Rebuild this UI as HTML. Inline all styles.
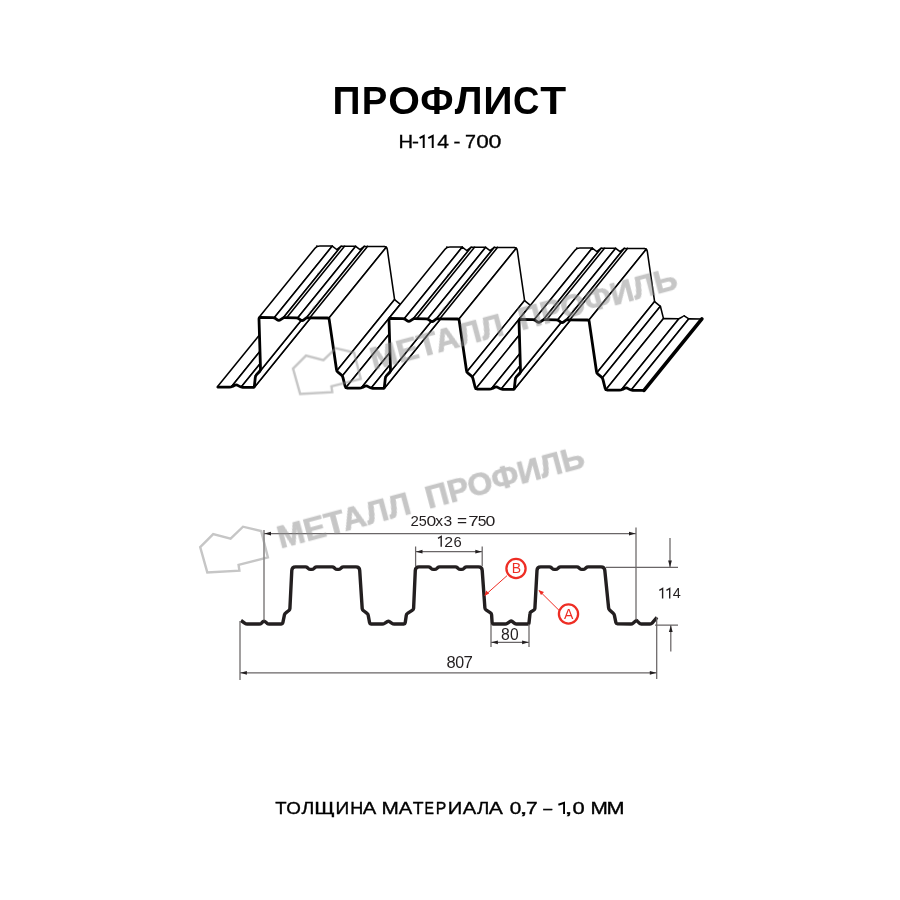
<!DOCTYPE html>
<html><head><meta charset="utf-8"><style>
html,body{margin:0;padding:0;background:#fff;width:900px;height:900px;overflow:hidden}
svg{display:block;will-change:transform;font-family:"Liberation Sans",sans-serif}
</style></head><body>
<svg width="900" height="900" viewBox="0 0 900 900">
<rect width="900" height="900" fill="#fff"/>
<text x="332.40" y="114" font-size="39" textLength="28.03" lengthAdjust="spacingAndGlyphs" font-family="Liberation Sans" fill="#000" font-weight="bold">П</text><text x="361.85" y="114" font-size="39" textLength="25.54" lengthAdjust="spacingAndGlyphs" font-family="Liberation Sans" fill="#000" font-weight="bold">Р</text><text x="388.33" y="114" font-size="39" textLength="31.68" lengthAdjust="spacingAndGlyphs" font-family="Liberation Sans" fill="#000" font-weight="bold">О</text><text x="420.30" y="114" font-size="39" textLength="33.29" lengthAdjust="spacingAndGlyphs" font-family="Liberation Sans" fill="#000" font-weight="bold">Ф</text><text x="454.80" y="114" font-size="39" textLength="27.81" lengthAdjust="spacingAndGlyphs" font-family="Liberation Sans" fill="#000" font-weight="bold">Л</text><text x="483.37" y="114" font-size="39" textLength="29.38" lengthAdjust="spacingAndGlyphs" font-family="Liberation Sans" fill="#000" font-weight="bold">И</text><text x="512.90" y="114" font-size="39" textLength="26.40" lengthAdjust="spacingAndGlyphs" font-family="Liberation Sans" fill="#000" font-weight="bold">С</text><text x="540.17" y="114" font-size="39" textLength="25.90" lengthAdjust="spacingAndGlyphs" font-family="Liberation Sans" fill="#000" font-weight="bold">Т</text><text x="398.44" y="148" font-size="17.5" textLength="14.57" lengthAdjust="spacingAndGlyphs" font-family="Liberation Sans" fill="#000" stroke="#000" stroke-width="0.3">Н</text><text x="412.11" y="148" font-size="17.5" textLength="6.94" lengthAdjust="spacingAndGlyphs" font-family="Liberation Sans" fill="#000" stroke="#000" stroke-width="0.3">-</text><path d="M419.58,138.02 L423.72,135.88 V148.00" fill="none" stroke="#000" stroke-width="1.95" stroke-linejoin="miter"/><path d="M428.28,138.02 L432.72,135.88 V148.00" fill="none" stroke="#000" stroke-width="1.95" stroke-linejoin="miter"/><text x="437.28" y="148" font-size="17.5" textLength="11.72" lengthAdjust="spacingAndGlyphs" font-family="Liberation Sans" fill="#000" stroke="#000" stroke-width="0.3">4</text><text x="453.41" y="148" font-size="17.5" textLength="6.94" lengthAdjust="spacingAndGlyphs" font-family="Liberation Sans" fill="#000" stroke="#000" stroke-width="0.3">-</text><text x="465.04" y="148" font-size="17.5" textLength="10.95" lengthAdjust="spacingAndGlyphs" font-family="Liberation Sans" fill="#000" stroke="#000" stroke-width="0.3">7</text><text x="476.16" y="148" font-size="17.5" textLength="12.55" lengthAdjust="spacingAndGlyphs" font-family="Liberation Sans" fill="#000" stroke="#000" stroke-width="0.3">0</text><text x="488.44" y="148" font-size="17.5" textLength="12.90" lengthAdjust="spacingAndGlyphs" font-family="Liberation Sans" fill="#000" stroke="#000" stroke-width="0.3">0</text><text x="275.15" y="813.9" font-size="16.6" textLength="11.33" lengthAdjust="spacingAndGlyphs" font-family="Liberation Sans" fill="#000" stroke="#000" stroke-width="0.35">Т</text><text x="286.29" y="813.9" font-size="16.6" textLength="14.63" lengthAdjust="spacingAndGlyphs" font-family="Liberation Sans" fill="#000" stroke="#000" stroke-width="0.35">О</text><text x="301.58" y="813.9" font-size="16.6" textLength="12.86" lengthAdjust="spacingAndGlyphs" font-family="Liberation Sans" fill="#000" stroke="#000" stroke-width="0.35">Л</text><text x="314.25" y="813.9" font-size="16.6" textLength="20.52" lengthAdjust="spacingAndGlyphs" font-family="Liberation Sans" fill="#000" stroke="#000" stroke-width="0.35">Щ</text><text x="335.59" y="813.9" font-size="16.6" textLength="13.75" lengthAdjust="spacingAndGlyphs" font-family="Liberation Sans" fill="#000" stroke="#000" stroke-width="0.35">И</text><text x="350.18" y="813.9" font-size="16.6" textLength="13.03" lengthAdjust="spacingAndGlyphs" font-family="Liberation Sans" fill="#000" stroke="#000" stroke-width="0.35">Н</text><text x="362.68" y="813.9" font-size="16.6" textLength="13.51" lengthAdjust="spacingAndGlyphs" font-family="Liberation Sans" fill="#000" stroke="#000" stroke-width="0.35">А</text><text x="381.55" y="813.9" font-size="16.6" textLength="17.32" lengthAdjust="spacingAndGlyphs" font-family="Liberation Sans" fill="#000" stroke="#000" stroke-width="0.35">М</text><text x="398.78" y="813.9" font-size="16.6" textLength="13.51" lengthAdjust="spacingAndGlyphs" font-family="Liberation Sans" fill="#000" stroke="#000" stroke-width="0.35">А</text><text x="412.87" y="813.9" font-size="16.6" textLength="10.79" lengthAdjust="spacingAndGlyphs" font-family="Liberation Sans" fill="#000" stroke="#000" stroke-width="0.35">Т</text><text x="424.40" y="813.9" font-size="16.6" textLength="9.47" lengthAdjust="spacingAndGlyphs" font-family="Liberation Sans" fill="#000" stroke="#000" stroke-width="0.35">Е</text><text x="435.86" y="813.9" font-size="16.6" textLength="10.57" lengthAdjust="spacingAndGlyphs" font-family="Liberation Sans" fill="#000" stroke="#000" stroke-width="0.35">Р</text><text x="447.70" y="813.9" font-size="16.6" textLength="14.53" lengthAdjust="spacingAndGlyphs" font-family="Liberation Sans" fill="#000" stroke="#000" stroke-width="0.35">И</text><text x="462.68" y="813.9" font-size="16.6" textLength="13.51" lengthAdjust="spacingAndGlyphs" font-family="Liberation Sans" fill="#000" stroke="#000" stroke-width="0.35">А</text><text x="477.09" y="813.9" font-size="16.6" textLength="12.28" lengthAdjust="spacingAndGlyphs" font-family="Liberation Sans" fill="#000" stroke="#000" stroke-width="0.35">Л</text><text x="488.77" y="813.9" font-size="16.6" textLength="14.12" lengthAdjust="spacingAndGlyphs" font-family="Liberation Sans" fill="#000" stroke="#000" stroke-width="0.35">А</text><text x="509.85" y="813.9" font-size="16.6" textLength="11.54" lengthAdjust="spacingAndGlyphs" font-family="Liberation Sans" fill="#000" stroke="#000" stroke-width="0.35">0</text><text x="519.58" y="813.9" font-size="16.6" textLength="8.07" lengthAdjust="spacingAndGlyphs" font-family="Liberation Sans" fill="#000" stroke="#000" stroke-width="0.35">,</text><text x="526.06" y="813.9" font-size="16.6" textLength="11.69" lengthAdjust="spacingAndGlyphs" font-family="Liberation Sans" fill="#000" stroke="#000" stroke-width="0.35">7</text><text x="543.30" y="813.9" font-size="16.6" textLength="8.93" lengthAdjust="spacingAndGlyphs" font-family="Liberation Sans" fill="#000" stroke="#000" stroke-width="0.35">–</text><path d="M558.37,804.77 L564.05,802.87 V813.90" fill="none" stroke="#000" stroke-width="1.9" stroke-linejoin="miter"/><text x="564.58" y="813.9" font-size="16.6" textLength="8.07" lengthAdjust="spacingAndGlyphs" font-family="Liberation Sans" fill="#000" stroke="#000" stroke-width="0.35">,</text><text x="572.50" y="813.9" font-size="16.6" textLength="12.23" lengthAdjust="spacingAndGlyphs" font-family="Liberation Sans" fill="#000" stroke="#000" stroke-width="0.35">0</text><text x="590.45" y="813.9" font-size="16.6" textLength="17.32" lengthAdjust="spacingAndGlyphs" font-family="Liberation Sans" fill="#000" stroke="#000" stroke-width="0.35">М</text><text x="606.47" y="813.9" font-size="16.6" textLength="18.06" lengthAdjust="spacingAndGlyphs" font-family="Liberation Sans" fill="#000" stroke="#000" stroke-width="0.35">М</text>
<g stroke="#000" fill="none" stroke-width="1.55" stroke-linejoin="round" stroke-linecap="round"><polygon points="217.2,387.1 231,387.2 288.9,315.7 275.1,315.6" fill="#fff" stroke="none"/><path d="M217.2,387.1L275.1,315.6M231,387.2L288.9,315.7M275.1,315.6L288.9,315.7"/><polygon points="231,387.2 236.3,384.4 294.2,312.9 288.9,315.7" fill="#fff" stroke="none"/><path d="M231,387.2L288.9,315.7M288.9,315.7L294.2,312.9"/><polygon points="236.3,384.4 241,387.3 298.9,315.8 294.2,312.9" fill="#fff" stroke="none"/><path d="M241,387.3L298.9,315.8M294.2,312.9L298.9,315.8"/><polygon points="241,387.3 254.2,387.4 312.1,315.9 298.9,315.8" fill="#fff" stroke="none"/><path d="M241,387.3L298.9,315.8M254.2,387.4L312.1,315.9M298.9,315.8L312.1,315.9"/><polygon points="254.2,387.4 255.5,375.8 313.4,304.3 312.1,315.9" fill="#fff" stroke="none"/><path d="M254.2,387.4L312.1,315.9M255.5,375.8L313.4,304.3M312.1,315.9L313.4,304.3"/><polygon points="255.5,375.8 260.6,370.5 318.5,299 313.4,304.3" fill="#fff" stroke="none"/><path d="M255.5,375.8L313.4,304.3M260.6,370.5L318.5,299M313.4,304.3L318.5,299"/><polygon points="260.6,370.5 258.9,317.5 316.8,246 318.5,299" fill="#fff" stroke="none"/><path d="M260.6,370.5L318.5,299M318.5,299L316.8,246"/><polygon points="258.9,317.5 274.4,317.6 332.3,246.1 316.8,246" fill="#fff" stroke="none"/><path d="M258.9,317.5L315,248.2Q316.8,246 319.6,246M274.4,317.6L332.3,246.1M319.6,246L332.3,246.1"/><polygon points="274.4,317.6 278.8,321 336.7,249.5 332.3,246.1" fill="#fff" stroke="none"/><path d="M274.4,317.6L332.3,246.1M332.3,246.1L336.7,249.5"/><polygon points="278.8,321 283.3,317.7 341.2,246.2 336.7,249.5" fill="#fff" stroke="none"/><path d="M283.3,317.7L341.2,246.2M286.6,317.7L344.5,246.2M336.7,249.5L341.2,246.2"/><polygon points="283.3,317.7 297.8,317.8 355.7,246.3 341.2,246.2" fill="#fff" stroke="none"/><path d="M283.3,317.7L341.2,246.2M286.6,317.7L344.5,246.2M297.8,317.8L355.7,246.3M341.2,246.2L355.7,246.3"/><polygon points="297.8,317.8 302.1,321.1 360,249.6 355.7,246.3" fill="#fff" stroke="none"/><path d="M297.8,317.8L355.7,246.3M355.7,246.3L360,249.6"/><polygon points="302.1,321.1 306.3,317.9 364.2,246.4 360,249.6" fill="#fff" stroke="none"/><path d="M306.3,317.9L364.2,246.4M309.6,317.9L367.5,246.4M360,249.6L364.2,246.4"/><polygon points="306.3,317.9 329,318 386.9,246.5 364.2,246.4" fill="#fff" stroke="none"/><path d="M306.3,317.9L364.2,246.4M309.6,317.9L367.5,246.4M329,318L386.3,247.2M364.2,246.4L384.1,246.5"/><polygon points="329,318 336.7,371.1 394.6,299.6 386.9,246.5" fill="#fff" stroke="none"/><path d="M329,318L386.3,247.2M336.7,371.1L394.6,299.6M384.1,246.5Q386.9,246.5 387.3,249.3M387.3,249.3L394.6,299.6"/><polygon points="336.7,371.1 342.5,375.8 400.4,304.3 394.6,299.6" fill="#fff" stroke="none"/><path d="M336.7,371.1L394.6,299.6M342.5,375.8L400.4,304.3M394.6,299.6L400.4,304.3"/><polygon points="342.5,375.8 345.6,388.1 403.5,316.6 400.4,304.3" fill="#fff" stroke="none"/><path d="M342.5,375.8L400.4,304.3M345.6,388.1L403.5,316.6M400.4,304.3L403.5,316.6"/><polygon points="345.6,388.1 361,388.2 418.9,316.7 403.5,316.6" fill="#fff" stroke="none"/><path d="M345.6,388.1L403.5,316.6M361,388.2L418.9,316.7M403.5,316.6L418.9,316.7"/><polygon points="361,388.2 366.3,385.4 424.2,313.9 418.9,316.7" fill="#fff" stroke="none"/><path d="M361,388.2L418.9,316.7M418.9,316.7L424.2,313.9"/><polygon points="366.3,385.4 371,388.3 428.9,316.8 424.2,313.9" fill="#fff" stroke="none"/><path d="M371,388.3L428.9,316.8M424.2,313.9L428.9,316.8"/><polygon points="371,388.3 384.2,388.4 442.1,316.9 428.9,316.8" fill="#fff" stroke="none"/><path d="M371,388.3L428.9,316.8M384.2,388.4L442.1,316.9M428.9,316.8L442.1,316.9"/><polygon points="384.2,388.4 385.5,376.8 443.4,305.3 442.1,316.9" fill="#fff" stroke="none"/><path d="M384.2,388.4L442.1,316.9M385.5,376.8L443.4,305.3M442.1,316.9L443.4,305.3"/><polygon points="385.5,376.8 390.6,371.5 448.5,300 443.4,305.3" fill="#fff" stroke="none"/><path d="M385.5,376.8L443.4,305.3M390.6,371.5L448.5,300M443.4,305.3L448.5,300"/><polygon points="390.6,371.5 388.9,318.5 446.8,247 448.5,300" fill="#fff" stroke="none"/><path d="M390.6,371.5L448.5,300M448.5,300L446.8,247"/><polygon points="388.9,318.5 404.4,318.6 462.3,247.1 446.8,247" fill="#fff" stroke="none"/><path d="M388.9,318.5L445,249.2Q446.8,247 449.6,247M404.4,318.6L462.3,247.1M449.6,247L462.3,247.1"/><polygon points="404.4,318.6 408.8,322 466.7,250.5 462.3,247.1" fill="#fff" stroke="none"/><path d="M404.4,318.6L462.3,247.1M462.3,247.1L466.7,250.5"/><polygon points="408.8,322 413.3,318.7 471.2,247.2 466.7,250.5" fill="#fff" stroke="none"/><path d="M413.3,318.7L471.2,247.2M416.6,318.7L474.5,247.2M466.7,250.5L471.2,247.2"/><polygon points="413.3,318.7 427.8,318.8 485.7,247.3 471.2,247.2" fill="#fff" stroke="none"/><path d="M413.3,318.7L471.2,247.2M416.6,318.7L474.5,247.2M427.8,318.8L485.7,247.3M471.2,247.2L485.7,247.3"/><polygon points="427.8,318.8 432.1,322.1 490,250.6 485.7,247.3" fill="#fff" stroke="none"/><path d="M427.8,318.8L485.7,247.3M485.7,247.3L490,250.6"/><polygon points="432.1,322.1 436.3,318.9 494.2,247.4 490,250.6" fill="#fff" stroke="none"/><path d="M436.3,318.9L494.2,247.4M439.6,318.9L497.5,247.4M490,250.6L494.2,247.4"/><polygon points="436.3,318.9 459,319 516.9,247.5 494.2,247.4" fill="#fff" stroke="none"/><path d="M436.3,318.9L494.2,247.4M439.6,318.9L497.5,247.4M459,319L516.3,248.2M494.2,247.4L514.1,247.5"/><polygon points="459,319 466.7,372.1 524.6,300.6 516.9,247.5" fill="#fff" stroke="none"/><path d="M459,319L516.3,248.2M466.7,372.1L524.6,300.6M514.1,247.5Q516.9,247.5 517.3,250.3M517.3,250.3L524.6,300.6"/><polygon points="466.7,372.1 472.5,376.8 530.4,305.3 524.6,300.6" fill="#fff" stroke="none"/><path d="M466.7,372.1L524.6,300.6M472.5,376.8L530.4,305.3M524.6,300.6L530.4,305.3"/><polygon points="472.5,376.8 475.6,389.1 533.5,317.6 530.4,305.3" fill="#fff" stroke="none"/><path d="M472.5,376.8L530.4,305.3M475.6,389.1L533.5,317.6M530.4,305.3L533.5,317.6"/><polygon points="475.6,389.1 491,389.2 548.9,317.7 533.5,317.6" fill="#fff" stroke="none"/><path d="M475.6,389.1L533.5,317.6M491,389.2L548.9,317.7M533.5,317.6L548.9,317.7"/><polygon points="491,389.2 496.3,386.4 554.2,314.9 548.9,317.7" fill="#fff" stroke="none"/><path d="M491,389.2L548.9,317.7M548.9,317.7L554.2,314.9"/><polygon points="496.3,386.4 501,389.3 558.9,317.8 554.2,314.9" fill="#fff" stroke="none"/><path d="M501,389.3L558.9,317.8M554.2,314.9L558.9,317.8"/><polygon points="501,389.3 514.2,389.4 572.1,317.9 558.9,317.8" fill="#fff" stroke="none"/><path d="M501,389.3L558.9,317.8M514.2,389.4L572.1,317.9M558.9,317.8L572.1,317.9"/><polygon points="514.2,389.4 515.5,377.8 573.4,306.3 572.1,317.9" fill="#fff" stroke="none"/><path d="M514.2,389.4L572.1,317.9M515.5,377.8L573.4,306.3M572.1,317.9L573.4,306.3"/><polygon points="515.5,377.8 520.6,372.5 578.5,301 573.4,306.3" fill="#fff" stroke="none"/><path d="M515.5,377.8L573.4,306.3M520.6,372.5L578.5,301M573.4,306.3L578.5,301"/><polygon points="520.6,372.5 518.9,319.5 576.8,248 578.5,301" fill="#fff" stroke="none"/><path d="M520.6,372.5L578.5,301M578.5,301L576.8,248"/><polygon points="518.9,319.5 534.4,319.6 592.3,248.1 576.8,248" fill="#fff" stroke="none"/><path d="M518.9,319.5L575,250.2Q576.8,248 579.6,248M534.4,319.6L592.3,248.1M579.6,248L592.3,248.1"/><polygon points="534.4,319.6 538.8,323 596.7,251.5 592.3,248.1" fill="#fff" stroke="none"/><path d="M534.4,319.6L592.3,248.1M592.3,248.1L596.7,251.5"/><polygon points="538.8,323 543.3,319.7 601.2,248.2 596.7,251.5" fill="#fff" stroke="none"/><path d="M543.3,319.7L601.2,248.2M546.6,319.7L604.5,248.2M596.7,251.5L601.2,248.2"/><polygon points="543.3,319.7 557.8,319.8 615.7,248.3 601.2,248.2" fill="#fff" stroke="none"/><path d="M543.3,319.7L601.2,248.2M546.6,319.7L604.5,248.2M557.8,319.8L615.7,248.3M601.2,248.2L615.7,248.3"/><polygon points="557.8,319.8 562.1,323.1 620,251.6 615.7,248.3" fill="#fff" stroke="none"/><path d="M557.8,319.8L615.7,248.3M615.7,248.3L620,251.6"/><polygon points="562.1,323.1 566.3,319.9 624.2,248.4 620,251.6" fill="#fff" stroke="none"/><path d="M566.3,319.9L624.2,248.4M569.6,319.9L627.5,248.4M620,251.6L624.2,248.4"/><polygon points="566.3,319.9 589,320 646.9,248.5 624.2,248.4" fill="#fff" stroke="none"/><path d="M566.3,319.9L624.2,248.4M569.6,319.9L627.5,248.4M589,320L646.3,249.2M624.2,248.4L644.1,248.5"/><polygon points="589,320 596.7,373.1 654.6,301.6 646.9,248.5" fill="#fff" stroke="none"/><path d="M589,320L646.3,249.2M596.7,373.1L654.6,301.6M644.1,248.5Q646.9,248.5 647.3,251.3M647.3,251.3L654.6,301.6"/><polygon points="596.7,373.1 602.5,377.8 660.4,306.3 654.6,301.6" fill="#fff" stroke="none"/><path d="M596.7,373.1L654.6,301.6M602.5,377.8L660.4,306.3M654.6,301.6L660.4,306.3"/><polygon points="602.5,377.8 605.6,390.1 663.5,318.6 660.4,306.3" fill="#fff" stroke="none"/><path d="M602.5,377.8L660.4,306.3M605.6,390.1L663.5,318.6M660.4,306.3L663.5,318.6"/><polygon points="605.6,390.1 621,390.2 678.9,318.7 663.5,318.6" fill="#fff" stroke="none"/><path d="M605.6,390.1L663.5,318.6M621,390.2L678.9,318.7M663.5,318.6L678.9,318.7"/><polygon points="621,390.2 626.3,387.4 684.2,315.9 678.9,318.7" fill="#fff" stroke="none"/><path d="M621,390.2L678.9,318.7M678.9,318.7L684.2,315.9"/><polygon points="626.3,387.4 631,390.3 688.9,318.8 684.2,315.9" fill="#fff" stroke="none"/><path d="M631,390.3L688.9,318.8M684.2,315.9L688.9,318.8"/><polygon points="631,390.3 644,390.4 701.9,318.9 688.9,318.8" fill="#fff" stroke="none"/><path d="M631,390.3L688.9,318.8M644,390.4L701.9,318.9M688.9,318.8L701.9,318.9"/></g><path d="M217.2,387.1L229.4,387.2Q231,387.2 232.4,386.4L234.3,385.4Q236.3,384.4 238.2,385.6L239.6,386.4Q241,387.3 242.6,387.3L252.6,387.4Q254.2,387.4 254.4,385.8L255.3,377.4Q255.5,375.8 256.6,374.6L259.5,371.7Q260.6,370.5 260.5,368.9L259,319.1Q258.9,317.5 260.5,317.5L272.8,317.6Q274.4,317.6 275.7,318.6L277,319.6Q278.8,321 280.6,319.7L282.5,318.3Q283.3,317.7 284.3,317.7L296.2,317.8Q297.8,317.8 299.1,318.8L300.4,319.8Q302.1,321.1 303.8,319.8L305.5,318.5Q306.3,317.9 307.3,317.9L327.4,318Q329,318 329.2,319.6L336.5,369.5Q336.7,371.1 337.9,372.1L341.3,374.8Q342.5,375.8 342.9,377.4L345.2,386.5Q345.6,388.1 347.2,388.1L359.4,388.2Q361,388.2 362.4,387.4L364.3,386.4Q366.3,385.4 368.2,386.6L369.6,387.4Q371,388.3 372.6,388.3L382.6,388.4Q384.2,388.4 384.4,386.8L385.3,378.4Q385.5,376.8 386.6,375.6L389.5,372.7Q390.6,371.5 390.5,369.9L389,320.1Q388.9,318.5 390.5,318.5L402.8,318.6Q404.4,318.6 405.7,319.6L407,320.6Q408.8,322 410.6,320.7L412.5,319.3Q413.3,318.7 414.3,318.7L426.2,318.8Q427.8,318.8 429.1,319.8L430.4,320.8Q432.1,322.1 433.8,320.8L435.5,319.5Q436.3,318.9 437.3,318.9L457.4,319Q459,319 459.2,320.6L466.5,370.5Q466.7,372.1 467.9,373.1L471.3,375.8Q472.5,376.8 472.9,378.4L475.2,387.5Q475.6,389.1 477.2,389.1L489.4,389.2Q491,389.2 492.4,388.4L494.3,387.4Q496.3,386.4 498.2,387.6L499.6,388.4Q501,389.3 502.6,389.3L512.6,389.4Q514.2,389.4 514.4,387.8L515.3,379.4Q515.5,377.8 516.6,376.6L519.5,373.7Q520.6,372.5 520.5,370.9L519,321.1Q518.9,319.5 520.5,319.5L532.8,319.6Q534.4,319.6 535.7,320.6L537,321.6Q538.8,323 540.6,321.7L542.5,320.3Q543.3,319.7 544.3,319.7L556.2,319.8Q557.8,319.8 559.1,320.8L560.4,321.8Q562.1,323.1 563.8,321.8L565.5,320.5Q566.3,319.9 567.3,319.9L587.4,320Q589,320 589.2,321.6L596.5,371.5Q596.7,373.1 597.9,374.1L601.3,376.8Q602.5,377.8 602.9,379.4L605.2,388.5Q605.6,390.1 607.2,390.1L619.4,390.2Q621,390.2 622.4,389.4L624.3,388.4Q626.3,387.4 628.2,388.6L629.6,389.4Q631,390.3 632.6,390.3L644,390.4" fill="none" stroke="#000" stroke-width="2.8" stroke-linejoin="round"/><path d="M644,390.4L701.9,318.9" fill="none" stroke="#000" stroke-width="3.6" stroke-linecap="round"/>
<path d="M241,620.5L245,623.3Q246,624 247.2,624L259.3,624Q260.5,624 261.4,623.2L263.1,621.6Q264,620.8 264.9,621.5L267.1,623.3Q268,624 269.2,624L281.3,624Q282.5,624 282.8,622.8L284.5,614.7Q284.8,613.5 285.8,612.8L288.8,610.5Q289.8,609.8 289.9,608.6L291.8,570.4Q292,566.9 295.5,566.9L305.5,566.9Q306.7,566.9 307.5,567.7L308.4,568.6Q309.2,569.4 310.4,569.4L311.8,569.4Q313,569.4 313.8,568.6L314.7,567.7Q315.5,566.9 316.7,566.9L332.2,566.9Q333.4,566.9 334.2,567.7L335.1,568.6Q335.9,569.4 337.1,569.4L338.5,569.4Q339.7,569.4 340.5,568.6L341.4,567.7Q342.2,566.9 343.4,566.9L356,566.9Q359.5,566.9 359.7,570.4L362.2,608.6Q362.3,609.8 363.3,610.5L367,613.3Q368,614 368.2,615.2L369.6,622.8Q369.8,624 371,624L382.3,624Q383.5,624 384.5,623.4L387.5,621.5Q388.5,620.9 389.5,621.6L392,623.3Q393,624 394.2,624L403.8,624Q405,624 405.2,622.8L406.3,615.2Q406.5,614 407.5,613.4L412.5,610.1Q413.5,609.5 413.6,608.3L415.3,570.4Q415.5,566.9 419,566.9L428.4,566.9Q429.6,566.9 430.4,567.7L431.3,568.6Q432.1,569.4 433.3,569.4L434.7,569.4Q435.9,569.4 436.7,568.6L437.6,567.7Q438.4,566.9 439.6,566.9L455.4,566.9Q456.6,566.9 457.4,567.7L458.3,568.6Q459.1,569.4 460.3,569.4L461.7,569.4Q462.9,569.4 463.7,568.6L464.6,567.7Q465.4,566.9 466.6,566.9L478.5,566.9Q482,566.9 482.2,570.4L484.9,608Q485,609.2 486,609.9L490.5,612.9Q491.5,613.6 491.6,614.8L492.1,622.8Q492.2,624 493.4,624L505.1,624Q506.3,624 507.3,623.3L510.2,621.3Q511.2,620.6 512.1,621.3L514.6,623.3Q515.5,624 516.7,624L527.7,624Q528.9,624 529,622.8L530,613.5Q530.1,612.3 531.1,611.7L533.8,610.1Q534.8,609.5 534.9,608.3L537,570.4Q537.2,566.9 540.7,566.9L549.4,566.9Q550.6,566.9 551.4,567.7L552.3,568.6Q553.1,569.4 554.3,569.4L555.7,569.4Q556.9,569.4 557.7,568.6L558.6,567.7Q559.4,566.9 560.6,566.9L576.9,566.9Q578.1,566.9 578.9,567.7L579.8,568.6Q580.6,569.4 581.8,569.4L583.2,569.4Q584.4,569.4 585.2,568.6L586.1,567.7Q586.9,566.9 588.1,566.9L601,566.9Q604.5,566.9 604.8,570.4L608.6,607.9Q608.7,609.1 609.6,609.9L613.2,613.3Q614.1,614.1 614.4,615.3L615.9,622.7Q616.2,623.9 617.4,623.9L630.9,624Q632.1,624 633,623.2L635.6,621Q636.5,620.2 637.3,621.1L639.3,623.1Q640.1,624 641.3,624L650.1,624Q651.3,624 652.1,623.1L657,617.4" fill="none" stroke="#231f20" stroke-width="3.4" stroke-linejoin="round"/><path d="M264,530V620.5M636,527.5V620M264,533.6H636M415.6,546.5V566M482.2,546.5V566M415.6,551.7H482.2M491,624V647M529,624V647M491,642.3H529M240,621V680M656.7,617V679M240,672.8H656.7M606,567.3H678M655,625.2H678M670,538V567M670.8,651.5V625.5" stroke="#6a6667" stroke-width="1.25" fill="none"/><g fill="#231f20"><path d="M264.5,533.6 L271,531.7 L271,535.5 Z"/><path d="M635.5,533.6 L629,531.7 L629,535.5 Z"/><path d="M416,551.7 L422.5,549.8 L422.5,553.6 Z"/><path d="M481.8,551.7 L475.3,549.8 L475.3,553.6 Z"/><path d="M491.4,642.3 L497.9,640.4 L497.9,644.2 Z"/><path d="M528.6,642.3 L522.1,640.4 L522.1,644.2 Z"/><path d="M240.4,672.8 L246.9,670.9 L246.9,674.7 Z"/><path d="M656.3,672.8 L649.8,670.9 L649.8,674.7 Z"/><path d="M670,567 L668.1,560.5 L671.9,560.5 Z"/><path d="M670.8,625.5 L668.9,632 L672.7,632 Z"/></g><circle cx="516" cy="568.5" r="9.6" fill="#fff" stroke="#ee2d24" stroke-width="2.3"/><circle cx="568.5" cy="614" r="9.6" fill="#fff" stroke="#ee2d24" stroke-width="2.3"/><path d="M507,575.7L485,595.3M559,610.3L539,590.5" stroke="#ee2d24" stroke-width="1" fill="none"/><path d="M484.3,596 L486.2,590.6 L489.2,593.6 Z M538.4,590 L544,592 L541,595 Z" fill="#ee2d24"/><text x="516.3" y="573.4" font-family="Liberation Sans" font-size="14" fill="#ee2d24" text-anchor="middle">B</text><text x="568.6" y="619" font-family="Liberation Sans" font-size="14" fill="#ee2d24" text-anchor="middle">A</text><text x="410.59" y="525.8" font-size="14.8" textLength="8.35" lengthAdjust="spacingAndGlyphs" font-family="Liberation Sans" fill="#231f20">2</text><text x="418.72" y="525.8" font-size="14.8" textLength="8.00" lengthAdjust="spacingAndGlyphs" font-family="Liberation Sans" fill="#231f20">5</text><text x="426.49" y="525.8" font-size="14.8" textLength="9.74" lengthAdjust="spacingAndGlyphs" font-family="Liberation Sans" fill="#231f20">0</text><text x="435.39" y="525.8" font-size="14.8" textLength="7.82" lengthAdjust="spacingAndGlyphs" font-family="Liberation Sans" fill="#231f20">x</text><text x="443.47" y="525.8" font-size="14.8" textLength="8.70" lengthAdjust="spacingAndGlyphs" font-family="Liberation Sans" fill="#231f20">3</text><text x="456.98" y="525.8" font-size="14.8" textLength="10.08" lengthAdjust="spacingAndGlyphs" font-family="Liberation Sans" fill="#231f20">=</text><text x="468.39" y="525.8" font-size="14.8" textLength="10.44" lengthAdjust="spacingAndGlyphs" font-family="Liberation Sans" fill="#231f20">7</text><text x="477.77" y="525.8" font-size="14.8" textLength="8.70" lengthAdjust="spacingAndGlyphs" font-family="Liberation Sans" fill="#231f20">5</text><text x="485.58" y="525.8" font-size="14.8" textLength="9.85" lengthAdjust="spacingAndGlyphs" font-family="Liberation Sans" fill="#231f20">0</text><path d="M438.02,538.30 L441.20,536.39 V546.80" fill="none" stroke="#231f20" stroke-width="1.4" stroke-linejoin="miter"/><text x="444.15" y="546.8" font-size="15" textLength="8.83" lengthAdjust="spacingAndGlyphs" font-family="Liberation Sans" fill="#231f20">2</text><text x="453.41" y="546.8" font-size="15" textLength="8.22" lengthAdjust="spacingAndGlyphs" font-family="Liberation Sans" fill="#231f20">6</text><text x="501.01" y="639.9" font-size="16" textLength="8.78" lengthAdjust="spacingAndGlyphs" font-family="Liberation Sans" fill="#231f20">8</text><text x="510.02" y="639.9" font-size="16" textLength="8.67" lengthAdjust="spacingAndGlyphs" font-family="Liberation Sans" fill="#231f20">0</text><text x="446.48" y="667.8" font-size="16" textLength="9.14" lengthAdjust="spacingAndGlyphs" font-family="Liberation Sans" fill="#231f20">8</text><text x="455.20" y="667.8" font-size="16" textLength="8.90" lengthAdjust="spacingAndGlyphs" font-family="Liberation Sans" fill="#231f20">0</text><text x="463.56" y="667.8" font-size="16" textLength="9.39" lengthAdjust="spacingAndGlyphs" font-family="Liberation Sans" fill="#231f20">7</text><path d="M659.32,590.29 L662.60,588.49 V598.40" fill="none" stroke="#231f20" stroke-width="1.4" stroke-linejoin="miter"/><path d="M666.42,590.29 L669.70,588.49 V598.40" fill="none" stroke="#231f20" stroke-width="1.4" stroke-linejoin="miter"/><text x="672.85" y="598.4" font-size="14.5" textLength="8.06" lengthAdjust="spacingAndGlyphs" font-family="Liberation Sans" fill="#231f20">4</text>
<g opacity="0.5"><g transform="translate(0,0)"><polygon points="200.2,547.1 213.2,534.2 230.6,538.7 243,526.7 261.2,531.1 267.9,557.3 238.6,564.9 239.4,570.7 207.3,572.4" fill="none" stroke="#8c8c8c" stroke-width="2.4" stroke-linejoin="miter"/><g transform="translate(280.5,548.6) rotate(-15)" font-family="Liberation Sans" font-weight="bold" font-size="31" fill="#8c8c8c" stroke="#8c8c8c" stroke-width="0.7" stroke-linejoin="round"><text x="0" y="0" textLength="137" lengthAdjust="spacingAndGlyphs">МЕТАЛЛ</text><text x="153.5" y="0" textLength="163" lengthAdjust="spacingAndGlyphs">ПРОФИЛЬ</text></g></g><g transform="translate(92.8,-178.5)"><polygon points="200.2,547.1 213.2,534.2 230.6,538.7 243,526.7 261.2,531.1 267.9,557.3 238.6,564.9 239.4,570.7 207.3,572.4" fill="none" stroke="#8c8c8c" stroke-width="2.4" stroke-linejoin="miter"/><g transform="translate(280.5,548.6) rotate(-15)" font-family="Liberation Sans" font-weight="bold" font-size="31" fill="#8c8c8c" stroke="#8c8c8c" stroke-width="0.7" stroke-linejoin="round"><text x="0" y="0" textLength="137" lengthAdjust="spacingAndGlyphs">МЕТАЛЛ</text><text x="153.5" y="0" textLength="163" lengthAdjust="spacingAndGlyphs">ПРОФИЛЬ</text></g></g></g>
</svg>
</body></html>
